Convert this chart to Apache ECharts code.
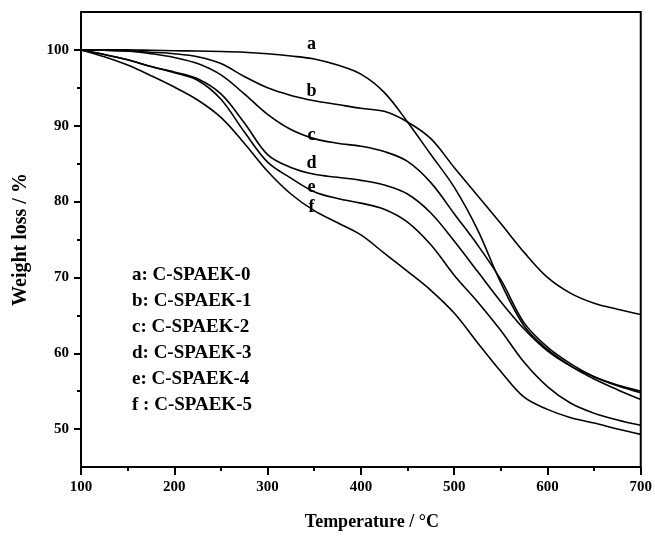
<!DOCTYPE html>
<html>
<head>
<meta charset="utf-8">
<script src="https://cdn.jsdelivr.net/npm/echarts@6/dist/echarts.min.js"></script>
<style>html,body{margin:0;padding:0;background:#fff;}#c{width:655px;height:536px;}</style>
</head>
<body>
<div id="c"></div>
<script>
var temps = [100,125,150,175,200,225,250,275,300,325,350,375,400,425,450,475,500,525,550,575,600,625,650,675,700];
var curveA = [100,100,100,99.95,99.9,99.85,99.8,99.7,99.5,99.2,98.8,98.0,96.8,94.4,90.5,86.2,81.9,76.3,69.3,63.6,60.5,58.3,56.6,55.2,53.9];
var curveB = [100,99.95,99.85,99.7,99.5,99.1,98.2,96.5,95.0,94.0,93.3,92.8,92.3,91.9,90.5,88.3,84.5,80.8,77.1,73.3,70.0,67.9,66.6,65.8,65.1];
var curveC = [100,99.95,99.85,99.5,99.0,98.2,96.7,94.2,91.5,89.5,88.3,87.7,87.3,86.6,85.3,82.5,78.4,74.3,69.7,64.0,60.8,58.6,56.9,55.7,54.8];
var curveD = [100,99.4,98.7,97.8,97.1,96.2,94.2,90.4,86.2,84.5,83.6,83.2,82.8,82.2,81.0,78.5,74.8,70.8,66.8,63.2,60.3,58.3,56.9,55.8,55.0];
var curveE = [100,99.4,98.7,97.8,97.0,96.0,93.5,89.2,85.2,83.1,81.3,80.4,79.8,79.0,77.3,74.3,70.3,66.8,63.0,58.8,55.6,53.4,52.1,51.2,50.5];
var curveF = [100,99.1,98.0,96.6,95.1,93.4,91.1,87.7,84.0,81.0,78.8,77.2,75.6,73.2,70.8,68.3,65.3,61.4,57.6,54.2,52.6,51.5,50.8,50.0,49.3];
var curveNames = ['a','b','c','d','e','f'];
var curveLabelPos = [[347,100.7],[347,94.5],[347,88.8],[347,85.0],[347,81.9],[347,79.3]];
var xTicks = [100,200,300,400,500,600,700];
var yTicks = [50,60,70,80,90,100];
var yMinorTicks = [55,65,75,85,95];
var legendLines = ['a: C-SPAEK-0','b: C-SPAEK-1','c: C-SPAEK-2','d: C-SPAEK-3','e: C-SPAEK-4','f : C-SPAEK-5'];

var FONT = '"Liberation Serif", "DejaVu Serif", serif';
var all = [curveA,curveB,curveC,curveD,curveE,curveF];
var series = all.map(function(arr,i){
  return {
    type:'line', name:curveNames[i], data: temps.map(function(t,j){return [t,arr[j]];}),
    smooth:0.35, showSymbol:false, symbol:'none',
    lineStyle:{color:'#000',width:1.6}, z:3
  };
});
series.push({
  type:'scatter', symbolSize:0, silent:true, z:5,
  itemStyle:{color:'#000', opacity:1},
  data: curveLabelPos.map(function(p,i){return {name:curveNames[i], value:p};}),
  label:{show:true, position:'inside', formatter:'{b}', color:'#000', opacity:1,
    textBorderWidth:0, fontFamily:FONT, fontWeight:'bold', fontSize:18}
});

var chart = echarts.init(document.getElementById('c'), null, {renderer:'canvas'});
chart.setOption({
  backgroundColor:'#fff',
  animation:false,
  title:{
    text: legendLines.join('\n'),
    left:127, top:257,
    textStyle:{fontFamily:FONT, fontWeight:'bold', fontSize:19, lineHeight:26, color:'#000'}
  },
  grid:{left:81,right:14,top:12,bottom:67, show:true, borderColor:'#000', borderWidth:2},
  xAxis:{
    type:'value', min:100, max:700, interval:100,
    name:'Temperature / °C', nameLocation:'middle', nameGap:46,
    nameTextStyle:{fontFamily:FONT, fontWeight:'bold', fontSize:18, color:'#000', padding:[0,0,0,22]},
    axisLine:{show:true, lineStyle:{color:'#000',width:2}},
    axisTick:{show:true, length:8, lineStyle:{color:'#000',width:2}},
    minorTick:{show:true, splitNumber:2, length:4, lineStyle:{color:'#000',width:2}},
    splitLine:{show:false},
    axisLabel:{fontFamily:FONT, fontWeight:'bold', fontSize:15, color:'#000', margin:13}
  },
  yAxis:[{
    type:'value', min:45, max:105,
    name:'Weight loss / %', nameLocation:'middle', nameGap:50,
    nameTextStyle:{fontFamily:FONT, fontWeight:'bold', fontSize:20, color:'#000'},
    axisLine:{show:true, lineStyle:{color:'#000',width:2}},
    axisTick:{show:true, length:7, customValues:yTicks, lineStyle:{color:'#000',width:2}},
    splitLine:{show:false},
    axisLabel:{customValues:yTicks, fontFamily:FONT, fontWeight:'bold', fontSize:15, color:'#000', margin:12}
  },{
    type:'value', min:45, max:105, position:'left',
    axisLine:{show:false},
    axisTick:{show:true, length:4, customValues:yMinorTicks, lineStyle:{color:'#000',width:2}},
    axisLabel:{show:false},
    splitLine:{show:false}
  }],
  series:series
});
</script>
</body>
</html>
